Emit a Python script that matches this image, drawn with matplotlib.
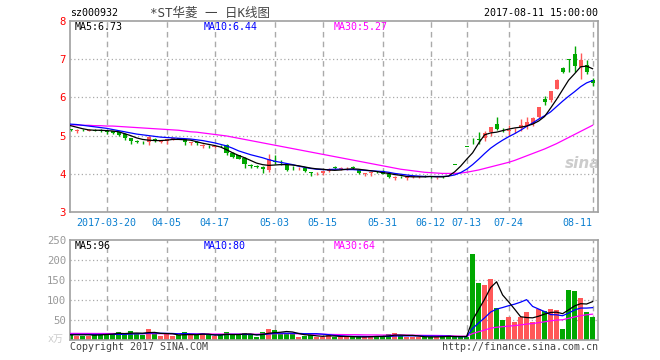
import matplotlib
matplotlib.use("Agg")
import matplotlib.pyplot as plt
import numpy as np

# daily candles, 2017-03 .. 2017-08-11 (one entry per trading day shown)
opens = [5.16, 5.13, 5.15, 5.12, 5.15, 5.15, 5.13, 5.11, 5.10, 5.05,
         4.93, 4.85, 4.84, 4.84, 4.92, 4.84, 4.87, 4.90, 4.94, 4.91,
         4.81, 4.83, 4.74, 4.73, 4.71, 4.73, 4.76, 4.55, 4.48, 4.42,
         4.23, 4.20, 4.19, 4.09, 4.34, 4.29, 4.22, 4.18, 4.14, 4.15,
         4.04, 4.01, 4.03, 4.08, 4.16, 4.13, 4.14, 4.16, 4.10, 4.00,
         4.01, 4.06, 4.07, 4.00, 3.90, 3.92, 3.89, 3.91, 3.92, 3.94,
         3.94, 3.88, 3.92, 4.04, 4.24, 4.48, 4.71, 4.94, 4.92, 4.95,
         5.10, 5.30, 5.15, 5.12, 5.11, 5.21, 5.24, 5.30, 5.49, 5.95,
         5.93, 6.23, 6.78, 7.00, 7.13, 6.80, 6.85, 6.45]
highs = [5.18, 5.18, 5.17, 5.16, 5.17, 5.17, 5.14, 5.13, 5.11, 5.06,
         4.95, 4.88, 4.86, 4.98, 4.94, 4.88, 4.92, 4.95, 4.95, 4.92,
         4.84, 4.85, 4.79, 4.75, 4.74, 4.76, 4.77, 4.56, 4.50, 4.43,
         4.25, 4.22, 4.20, 4.51, 4.48, 4.35, 4.24, 4.21, 4.18, 4.17,
         4.06, 4.04, 4.08, 4.14, 4.20, 4.18, 4.17, 4.20, 4.12, 4.03,
         4.05, 4.08, 4.10, 4.01, 3.93, 3.94, 3.93, 3.96, 3.95, 3.96,
         3.95, 3.92, 3.93, 4.04, 4.24, 4.48, 4.71, 4.94, 5.10, 5.11,
         5.22, 5.49, 5.20, 5.29, 5.19, 5.43, 5.48, 5.50, 5.76, 6.03,
         6.16, 6.47, 6.79, 7.00, 7.35, 7.15, 6.99, 6.52]
lows = [5.12, 5.08, 5.12, 5.11, 5.11, 5.10, 5.04, 5.04, 5.00, 4.88,
        4.78, 4.80, 4.79, 4.76, 4.83, 4.80, 4.78, 4.88, 4.90, 4.75,
        4.75, 4.76, 4.68, 4.68, 4.67, 4.70, 4.50, 4.42, 4.38, 4.14,
        4.14, 4.16, 4.02, 4.05, 4.25, 4.22, 4.08, 4.10, 4.10, 4.05,
        3.93, 3.97, 3.98, 4.05, 4.12, 4.10, 4.11, 4.13, 4.00, 3.93,
        3.93, 4.01, 3.99, 3.90, 3.83, 3.88, 3.85, 3.89, 3.90, 3.91,
        3.90, 3.86, 3.88, 4.04, 4.24, 4.48, 4.71, 4.78, 4.77, 4.87,
        5.00, 5.14, 5.10, 4.98, 5.06, 5.13, 5.18, 5.26, 5.47, 5.80,
        5.89, 6.21, 6.63, 6.66, 6.67, 6.47, 6.62, 6.31]
closes = [5.15, 5.14, 5.14, 5.14, 5.13, 5.13, 5.10, 5.07, 5.02, 4.93,
          4.86, 4.84, 4.83, 4.96, 4.85, 4.86, 4.91, 4.93, 4.92, 4.82,
          4.83, 4.80, 4.76, 4.72, 4.73, 4.72, 4.55, 4.44, 4.40, 4.25,
          4.21, 4.19, 4.13, 4.38, 4.32, 4.27, 4.10, 4.17, 4.15, 4.07,
          4.02, 4.03, 4.07, 4.12, 4.15, 4.15, 4.15, 4.15, 4.02, 4.02,
          4.04, 4.05, 4.00, 3.92, 3.91, 3.91, 3.90, 3.94, 3.93, 3.93,
          3.93, 3.90, 3.91, 4.04, 4.24, 4.48, 4.71, 4.93, 4.89, 5.08,
          5.22, 5.18, 5.14, 5.14, 5.13, 5.27, 5.35, 5.46, 5.75, 5.88,
          6.16, 6.46, 6.67, 6.98, 6.83, 6.99, 6.67, 6.38]

ma5 = [5.26, 5.22, 5.18, 5.15, 5.14, 5.14, 5.13, 5.12, 5.10, 5.05,
       5.00, 4.94, 4.90, 4.88, 4.87, 4.87, 4.88, 4.90, 4.90, 4.89,
       4.88, 4.84, 4.80, 4.77, 4.74, 4.70, 4.63, 4.55, 4.48, 4.42,
       4.35, 4.28, 4.24, 4.22, 4.23, 4.24, 4.24, 4.23, 4.21, 4.18,
       4.15, 4.13, 4.12, 4.10, 4.09, 4.10, 4.12, 4.13, 4.12, 4.10,
       4.08, 4.06, 4.03, 4.01, 3.98, 3.96, 3.93, 3.92, 3.92, 3.92,
       3.93, 3.92, 3.92, 3.94, 4.05, 4.20, 4.38, 4.55, 4.80, 5.02,
       5.07, 5.09, 5.13, 5.17, 5.20, 5.22, 5.25, 5.30, 5.38, 5.50,
       5.72, 5.95, 6.20, 6.45, 6.62, 6.80, 6.82, 6.75]
ma10 = [5.30, 5.29, 5.27, 5.25, 5.23, 5.21, 5.19, 5.16, 5.13, 5.10,
        5.07, 5.04, 5.02, 5.00, 4.98, 4.96, 4.95, 4.94, 4.93, 4.92,
        4.91, 4.89, 4.87, 4.84, 4.81, 4.77, 4.73, 4.67, 4.60, 4.55,
        4.50, 4.46, 4.42, 4.37, 4.33, 4.30, 4.27, 4.24, 4.20, 4.17,
        4.14, 4.12, 4.11, 4.11, 4.12, 4.12, 4.11, 4.11, 4.10, 4.09,
        4.08, 4.07, 4.06, 4.04, 4.01, 3.99, 3.97, 3.95, 3.94, 3.93,
        3.93, 3.93, 3.93, 3.94, 3.97, 4.03, 4.12, 4.24, 4.38, 4.53,
        4.67, 4.78, 4.88, 4.97, 5.05, 5.14, 5.24, 5.33, 5.43, 5.52,
        5.62, 5.76, 5.90, 6.03, 6.15, 6.28, 6.38, 6.44]
ma30 = [5.28, 5.28, 5.27, 5.27, 5.26, 5.26, 5.25, 5.25, 5.24, 5.23,
        5.22, 5.21, 5.20, 5.19, 5.18, 5.17, 5.16, 5.15, 5.14, 5.12,
        5.10, 5.09, 5.07, 5.05, 5.03, 5.01, 4.99, 4.96, 4.93, 4.90,
        4.87, 4.84, 4.81, 4.78, 4.75, 4.72, 4.69, 4.66, 4.63, 4.60,
        4.57, 4.54, 4.51, 4.48, 4.45, 4.42, 4.39, 4.36, 4.33, 4.30,
        4.27, 4.24, 4.21, 4.18, 4.15, 4.12, 4.10, 4.08, 4.06, 4.04,
        4.03, 4.02, 4.01, 4.01, 4.01, 4.02, 4.04, 4.07, 4.10, 4.14,
        4.18, 4.22, 4.26, 4.30, 4.35, 4.41, 4.47, 4.53, 4.59, 4.65,
        4.72, 4.79, 4.87, 4.95, 5.03, 5.11, 5.19, 5.27]

# volume, 万
volume = [14, 10, 10, 10, 17, 17, 15, 14, 20, 14,
          22, 17, 12, 27, 17, 10, 14, 10, 12, 20,
          12, 12, 17, 12, 10, 12, 20, 14, 12, 17,
          12, 8, 20, 27, 25, 17, 17, 14, 8, 10,
          12, 8, 8, 14, 8, 7, 7, 7, 10, 7,
          10, 10, 8, 15, 18, 10, 7, 8, 8, 8,
          8, 7, 10, 12, 7, 7, 8, 215, 143, 137,
          152, 81, 50, 57, 46, 57, 71, 46, 77, 73,
          77, 75, 27, 125, 122, 105, 71, 57]
vma5 = [13, 13, 13, 13, 12.2, 12.8, 13.8, 14.6, 16.6, 16,
        17, 17.4, 17, 18.4, 19, 16.6, 16, 15.6, 12.6, 13.2,
        13.6, 13.2, 14.6, 14.6, 12.6, 12.6, 14.2, 13.6, 13.6, 15,
        15, 12.6, 13.8, 16.8, 18.4, 19.4, 21.2, 20, 16.2, 13.2,
        12.2, 10.4, 9.2, 10.4, 10, 9, 8.8, 8.6, 7.8, 7.6,
        8.2, 8.8, 9, 10, 12.2, 12.2, 11.6, 11.6, 10.2, 8.2,
        7.8, 7.8, 8.2, 9, 8.8, 8.6, 8.8, 49.8, 76, 102,
        131, 145.6, 112.6, 95.4, 77.2, 58.2, 56.2, 55.4, 59.4, 64.8,
        68.8, 69.6, 65.8, 75.4, 85.2, 90.8, 90, 96]
vma10 = [14, 14, 14, 14, 14, 14, 14, 14, 14, 14.1,
         14.9, 15.6, 15.8, 17.5, 17.5, 16.8, 16.7, 16.3, 15.5, 16.1,
         15.1, 14.6, 15.1, 13.6, 12.9, 13.1, 13.7, 14.1, 14.1, 13.8,
         13.8, 13.4, 13.7, 15.2, 16.7, 17.2, 16.9, 16.9, 16.5, 15.8,
         15.8, 15.8, 14.6, 13.3, 11.6, 10.6, 9.6, 8.9, 9.1, 8.8,
         8.6, 8.8, 8.8, 8.9, 9.9, 10.2, 10.2, 10.3, 10.1, 10.2,
         10.0, 9.7, 9.9, 9.6, 8.5, 8.2, 8.3, 29, 42.5, 55.4,
         69.8, 77.2, 81.2, 85.7, 89.6, 94.6, 100.9, 84, 77.4, 71,
         63.5, 62.9, 60.6, 67.4, 75, 79.8, 79.8, 80.9]
vma30 = [16.5, 16.5, 16.4, 16.4, 16.3, 16.3, 16.2, 16.2, 16.1, 16.1,
         16, 16, 15.9, 15.9, 15.8, 15.8, 15.7, 15.6, 15.6, 15.5,
         15.4, 15.3, 15.2, 15.1, 15, 15, 14.9, 14.8, 14.8, 14.7,
         14.6, 14.5, 14.9, 15.4, 15.7, 15.7, 15.8, 15.8, 15.4, 15.2,
         14.9, 14.6, 14.5, 14.0, 13.7, 13.6, 13.4, 13.3, 13.2, 12.8,
         12.7, 12.7, 12.4, 12.5, 12.7, 12.7, 12.2, 12.0, 11.9, 11.6,
         11.5, 11.4, 11.1, 10.6, 10.0, 9.7, 9.4, 16.1, 20.6, 24.8,
         29.5, 31.9, 33.3, 34.7, 36, 37.7, 39.8, 41.1, 43.3, 45.5,
         47.8, 49.9, 50.6, 54.2, 57.7, 60.9, 63, 64.6]

tick_pos = [6, 16, 24, 34, 42, 52, 60, 66, 73, 87]
tick_labels = ["2017-03-20", "04-05", "04-17", "05-03", "05-15",
               "05-31", "06-12", "07-13", "07-24", "08-11"]

UP, DOWN = "#ff5858", "#00a800"
GRID = "#aaaaaa"
MONO = "DejaVu Sans Mono"
FS = 7.2

x = np.arange(len(closes))
o, h, l, c = map(np.array, (opens, highs, lows, closes))
colors = np.where(c > o, UP, DOWN)

fig = plt.figure(figsize=(6.6, 3.6), dpi=100)
W, H = 660, 360
ax = fig.add_axes([70 / W, 1 - 212 / H, 528 / W, 191 / H])
axv = fig.add_axes([70 / W, 1 - 340 / H, 528 / W, 100 / H])

for a in (ax, axv):
    a.set_xlim(-0.1, 87.9)
    for s in a.spines.values():
        s.set_color("#a0a0a0")
        s.set_linewidth(1.2)
    for t in tick_pos:
        a.axvline(t, color=GRID, lw=1, dashes=(4, 3), zorder=0)
    a.tick_params(length=0)

# price panel
ax.set_ylim(3, 8)
ax.set_yticks(range(3, 9))
ax.set_yticklabels([str(v) for v in range(3, 9)], color="red", family=MONO, fontsize=FS + 0.5)
for v in range(4, 8):
    ax.axhline(v, color=GRID, lw=0.9, ls=(0, (1, 2)), zorder=0)
ax.set_xticks(tick_pos)
ax.set_xticklabels(tick_labels, color="#0a7fd0", family=MONO, fontsize=FS)
ax.get_xticklabels()[-1].set_ha("right")
ax.tick_params(axis="x", pad=4)
ax.tick_params(axis="y", pad=3)

ax.vlines(x, l, h, colors=colors, lw=1, zorder=2)
body = np.maximum(np.abs(c - o), 0.015)
ax.bar(x, body, bottom=np.minimum(o, c), width=0.7, color=colors, zorder=3)
ax.plot(x, ma30, color="#ff00ff", lw=0.9, zorder=4)
ax.plot(x, ma10, color="#0000ff", lw=0.9, zorder=4)
ax.plot(x, ma5, color="black", lw=0.9, zorder=4)

ax.text(565, 196, "sina", transform=None, fontsize=11, style="italic", weight="bold",
        color="#cccccc", ha="left", va="center", zorder=1)

# volume panel
axv.set_ylim(0, 250)
axv.set_yticks([50, 100, 150, 200, 250])
axv.set_yticklabels(["50", "100", "150", "200", "250"], color="#999999", family=MONO, fontsize=FS + 0.5)
axv.set_xticks([])
axv.tick_params(axis="y", pad=3)
for v in (50, 100, 150, 200):
    axv.axhline(v, color=GRID, lw=0.9, ls=(0, (1, 2)), zorder=0)
axv.bar(x, volume, width=0.8, color=colors, zorder=2)
axv.plot(x, vma30, color="#ff00ff", lw=0.9, zorder=3)
axv.plot(x, vma10, color="#0000ff", lw=0.9, zorder=3)
axv.plot(x, vma5, color="black", lw=0.9, zorder=3)


def px(xp, yp, s, **kw):
    kw.setdefault("family", MONO)
    kw.setdefault("fontsize", FS)
    fig.text(xp / W, 1 - yp / H, s, va="center", **kw)


px(70, 13, "sz000932")
px(150, 13, "*ST华菱 一 日K线图", family=["DejaVu Sans Mono", "Noto Sans CJK SC"],
   fontsize=9, color="#444444")
px(598, 13, "2017-08-11 15:00:00", ha="right")
px(75, 27, "MA5:6.73")
px(204, 27, "MA10:6.44", color="#0000ff")
px(334, 27, "MA30:5.27", color="#ff00ff")
px(75, 246, "MA5:96")
px(204, 246, "MA10:80", color="#0000ff")
px(334, 246, "MA30:64", color="#ff00ff")
px(48, 339, "x万", family=["DejaVu Sans Mono", "Noto Sans CJK SC"], color="#cccccc")
px(70, 347, "Copyright 2017 SINA.COM", color="#444444")
px(598, 347, "http://finance.sina.com.cn", ha="right", color="#444444")

fig.savefig("out.png", dpi=100)
